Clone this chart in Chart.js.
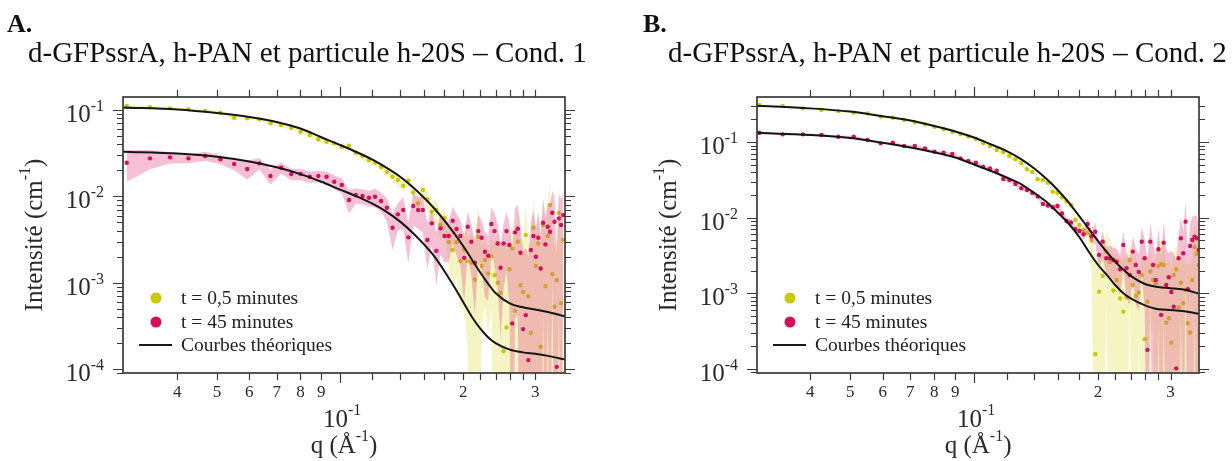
<!DOCTYPE html>
<html>
<head>
<meta charset="utf-8">
<script src="https://cdn.jsdelivr.net/npm/chart.js@4"></script>
<style>
  body { margin: 0; background: #fff; width: 1232px; height: 461px; overflow: hidden; position: relative; }
  canvas { position: absolute; top: 0; }
  #cA { left: 0; }
  #cB { left: 634px; }
</style>
</head>
<body>
<canvas id="cA" width="598" height="461"></canvas>
<canvas id="cB" width="598" height="461"></canvas>
<script>
// q values (A^-1), shared by both measurements
const q = [
  0.0301, 0.0343, 0.0384, 0.0426, 0.0468, 0.0510, 0.0551, 0.0593, 0.0635, 0.0676,
  0.0718, 0.0760, 0.0801, 0.0843, 0.0885, 0.0927, 0.0968, 0.1010, 0.1052, 0.1093,
  0.1135, 0.1177, 0.1218, 0.1260, 0.1302, 0.1344, 0.1385, 0.1427, 0.1469, 0.1510,
  0.1552, 0.1594, 0.1635, 0.1677, 0.1719, 0.1761, 0.1802, 0.1844, 0.1886, 0.1927,
  0.1969, 0.2011, 0.2052, 0.2094, 0.2136, 0.2178, 0.2219, 0.2261, 0.2303, 0.2344,
  0.2386, 0.2428, 0.2469, 0.2511, 0.2553, 0.2595, 0.2636, 0.2678, 0.2720, 0.2761,
  0.2803, 0.2845, 0.2886, 0.2928, 0.2970, 0.3012, 0.3053, 0.3095, 0.3137, 0.3178,
  0.3220, 0.3262, 0.3303, 0.3345, 0.3387, 0.3429, 0.3470, 0.3512
];

// Cond. 1, t = 0,5 min
const yellowA = [
  0.1112, 0.1075, 0.1046, 0.1019, 0.0974, 0.0930, 0.0814, 0.0801, 0.0780, 0.0701,
  0.0670, 0.0624, 0.0561, 0.0513, 0.0458, 0.0429, 0.0411, 0.0376, 0.0386, 0.0320,
  0.0293, 0.0263, 0.0246, 0.0219, 0.0191, 0.0169, 0.01545, 0.01327, 0.01517, 0.01113,
  0.00829, 0.01183, 0.00930, 0.00663, 0.00694, 0.00465, 0.00561, 0.00295, 0.00239, 0.00295,
  0.00178, 0.00243, 0.00178, 0.00170, 0.00109, 0.00340, 0.00156, 0.00183, 0.00128, 0.00203,
  0.00122, 0.000997, 0.000764, 0.000161, 0.000303, 0.00143, 0.00250, 0.000472, 0.00298, 0.000938,
  0.000784, 0.00356, 0.000699, 0.000263, 0.00433, 0.00156, 0.00285, 0.000181, 0.00465, 0.000913,
  0.00347, 0.00793, 0.00126, 0.000526, 0.00107, 0.00641, 0.000580, 0.00312
];
const relYellowA = [
  0.04, 0.04, 0.04, 0.04, 0.04, 0.04, 0.04, 0.04, 0.04, 0.04,
  0.06, 0.06, 0.06, 0.06, 0.06, 0.06, 0.06, 0.06, 0.06, 0.06,
  0.10, 0.10, 0.10, 0.10, 0.10, 0.10, 0.15, 0.15, 0.15, 0.15,
  0.15, 0.25, 0.25, 0.3, 0.3, 0.35, 0.35, 0.5, 0.6, 0.6,
  0.7, 0.8, 0.9, 1.2, 2, 1.3, 0.8, 0.7, 0.8, 0.75,
  1.2, 2.5, 3, 15, 8, 1.2, 1.1, 5, 1.2, 2.5,
  3, 1.1, 3.5, 9, 1.1, 1.2, 1.1, 12, 1.0, 2.5,
  1.1, 1.0, 1.8, 4, 2, 1.1, 4, 1.0
];
// Cond. 1, t = 45 min
const pinkA = [
  0.02451, 0.02756, 0.02831, 0.02756, 0.02931, 0.02683, 0.02368, 0.02072, 0.02413, 0.01719,
  0.02145, 0.01813, 0.01813, 0.01687, 0.01719, 0.01687, 0.01477, 0.01352, 0.00906, 0.01035,
  0.01008, 0.00963, 0.00989, 0.00882, 0.00738, 0.00433, 0.00619, 0.00694, 0.00335, 0.00772,
  0.00694, 0.00694, 0.00312, 0.00487, 0.00234, 0.00426, 0.00347, 0.00347, 0.00522, 0.00418,
  0.00347, 0.00194, 0.00444, 0.00298, 0.00170, 0.00396, 0.00331, 0.00228, 0.00205, 0.00478,
  0.00396, 0.00285, 0.00149, 0.00285, 0.00396, 0.00273, 0.000338, 0.00383, 0.00421, 0.00222,
  0.000290, 0.000421, 0.000127, 0.00239, 0.00347, 0.00200, 0.00331, 0.00146, 0.00494, 0.00278,
  0.00444, 0.00389, 0.00646, 0.00508, 0.000106, 0.00556, 0.00465, 0.00607
];
const relPinkA = [
  0.4, 0.25, 0.15, 0.12, 0.12, 0.12, 0.15, 0.25, 0.15, 0.2,
  0.15, 0.15, 0.15, 0.15, 0.15, 0.15, 0.18, 0.2, 0.3, 0.2,
  0.2, 0.2, 0.25, 0.25, 0.3, 0.45, 0.35, 0.4, 0.5, 0.4,
  0.4, 0.45, 0.55, 0.45, 0.6, 0.5, 0.5, 0.5, 0.45, 0.5,
  0.55, 0.7, 0.5, 0.6, 0.75, 0.55, 0.6, 0.7, 0.7, 0.55,
  0.6, 0.7, 0.85, 0.7, 0.65, 0.8, 6, 0.9, 0.9, 1.1,
  7, 5, 15, 1.1, 1.0, 1.2, 1.0, 1.5, 0.9, 1.1,
  0.9, 1.0, 0.8, 1.0, 20, 0.9, 1.0, 0.8
];

// Cond. 2, t = 0,5 min
const yellowB = [
  0.3083, 0.2990, 0.2787, 0.2646, 0.2567, 0.2438, 0.2393, 0.2159, 0.2094, 0.1953,
  0.1821, 0.1713, 0.1593, 0.1485, 0.1368, 0.1275, 0.1182, 0.1095, 0.0961, 0.0886,
  0.0784, 0.0738, 0.0653, 0.0591, 0.0528, 0.0436, 0.0402, 0.0322, 0.0315, 0.0290,
  0.0221, 0.0214, 0.0186, 0.0166, 0.0147, 0.00932, 0.00801, 0.00688, 0.00622, 0.00507,
  0.000157, 0.001053, 0.00170, 0.00356, 0.00260, 0.001092, 0.00150, 0.000856, 0.000573, 0.000883,
  0.00276, 0.00129, 0.000924, 0.001028, 0.00175, 0.000248, 0.000777, 0.00194, 0.00150, 0.00133,
  0.00230, 0.00242, 0.00237, 0.000410, 0.000469, 0.000223, 0.00175, 0.00208, 0.000651, 0.00138,
  0.000740, 0.001109, 0.000403, 0.000303, 0.00150, 0.00406, 0.00331, 0.00237
];
const relYellowB = [
  0.03, 0.03, 0.03, 0.03, 0.03, 0.03, 0.03, 0.03, 0.03, 0.03,
  0.03, 0.03, 0.03, 0.03, 0.03, 0.03, 0.03, 0.03, 0.03, 0.03,
  0.03, 0.05, 0.05, 0.05, 0.05, 0.05, 0.05, 0.05, 0.05, 0.05,
  0.05, 0.1, 0.1, 0.1, 0.1, 0.1, 0.1, 0.1, 0.1, 0.6,
  15, 2, 1.1, 0.8, 1.0, 2, 1.2, 2.5, 4, 2.5,
  0.7, 1.1, 2.5, 0.7, 1.1, 10, 2.5, 0.9, 0.7, 1.2,
  1.1, 1.0, 1.2, 5, 5, 9, 0.9, 1.1, 3, 1.2,
  3, 1.2, 5, 7, 1.2, 1.0, 1.1, 1.2
];
// Cond. 2, t = 45 min
const pinkB = [
  0.1327, 0.1264, 0.1264, 0.1238, 0.1175, 0.1175, 0.1063, 0.0961, 0.0979, 0.0886,
  0.0886, 0.0826, 0.0744, 0.0722, 0.0694, 0.0609, 0.0561, 0.0533, 0.0472, 0.0449,
  0.0418, 0.0324, 0.0315, 0.0279, 0.0245, 0.0232, 0.0212, 0.0191, 0.01517, 0.01450,
  0.01373, 0.01428, 0.01136, 0.00905, 0.00864, 0.00703, 0.00667, 0.00604, 0.00825, 0.00568,
  0.00653, 0.00322, 0.00482, 0.00291, 0.00291, 0.00276, 0.00262, 0.00208, 0.00436, 0.00215,
  0.00175, 0.00356, 0.00237, 0.00192, 0.00482, 0.00291, 0.000179, 0.00482, 0.00237, 0.00150,
  0.00383, 0.000519, 0.00468, 0.00129, 0.00163, 0.001043, 0.000667, 0.000102, 0.00291, 0.00534,
  0.00339, 0.00886, 0.001133, 0.00423, 0.00507, 0.00561, 0.00534, 0.00374
];
const relPinkB = [
  0.03, 0.03, 0.03, 0.03, 0.03, 0.03, 0.03, 0.03, 0.03, 0.03,
  0.03, 0.03, 0.03, 0.03, 0.03, 0.03, 0.03, 0.03, 0.03, 0.03,
  0.03, 0.06, 0.06, 0.06, 0.06, 0.06, 0.06, 0.06, 0.06, 0.06,
  0.06, 0.1, 0.1, 0.1, 0.1, 0.1, 0.1, 0.15, 0.2, 0.2,
  0.3, 0.35, 0.4, 0.4, 0.45, 0.45, 0.5, 0.55, 0.5, 0.6,
  0.6, 0.6, 0.7, 0.7, 0.6, 0.8, 15, 0.8, 1.0, 1.1,
  0.9, 5, 0.9, 2, 1.1, 2.5, 4, 25, 1.0, 0.9,
  1.0, 0.8, 2, 1.0, 1.0, 0.9, 1.0, 1.0
];

// theoretical curves
const qTheory = [0.0295, 0.04, 0.05, 0.06, 0.07, 0.08, 0.09, 0.10, 0.11, 0.12, 0.13, 0.14, 0.15, 0.16,
  0.17, 0.18, 0.19, 0.20, 0.21, 0.22, 0.23, 0.24, 0.26, 0.28, 0.30, 0.32, 0.355];
const theoryA1 = [0.1072, 0.1014, 0.0923, 0.0830, 0.0726, 0.0610, 0.0484, 0.0394, 0.0324, 0.0266, 0.0214,
  0.0170, 0.0130, 0.00977, 0.00724, 0.00525, 0.00376, 0.00266, 0.00186, 0.00132, 0.000977, 0.000759,
  0.000575, 0.000519, 0.000490, 0.000462, 0.000407];
const theoryA2 = [0.0329, 0.0313, 0.0288, 0.0254, 0.0217, 0.0181, 0.01476, 0.01197, 0.00995, 0.00822, 0.00661,
  0.00513, 0.00385, 0.00282, 0.00202, 0.00136, 0.000902, 0.000596, 0.000403, 0.000295, 0.000234, 0.000200,
  0.000168, 0.000156, 0.000150, 0.000143, 0.000129];
const theoryB1 = [0.3017, 0.2787, 0.2529, 0.2192, 0.1923, 0.1627, 0.1376, 0.1147, 0.0927, 0.0760, 0.0596,
  0.0447, 0.0324, 0.0229, 0.0157, 0.01047, 0.00708, 0.00490, 0.00351, 0.00263, 0.00207, 0.00170,
  0.00133, 0.00121, 0.00117, 0.00113, 0.00098];
const theoryB2 = [0.1327, 0.1238, 0.1129, 0.0976, 0.0846, 0.0731, 0.0624, 0.0504, 0.0414, 0.0340, 0.02787,
  0.0212, 0.01612, 0.01153, 0.00826, 0.00556, 0.00352, 0.00237, 0.00175, 0.00129, 0.00101, 0.000856,
  0.000692, 0.000615, 0.000604, 0.000585, 0.000534];

// axis ticks
const xTicks = [0.04, 0.05, 0.06, 0.07, 0.08, 0.09, 0.1, 0.12, 0.14, 0.16, 0.18, 0.2, 0.22, 0.24, 0.26, 0.28, 0.3];
const xLabelVals = [0.04, 0.05, 0.06, 0.07, 0.08, 0.09, 0.2, 0.3];
const xLabelText = ['4', '5', '6', '7', '8', '9', '2', '3'];
const yDecades = [1e-1, 1e-2, 1e-3, 1e-4];
const yDecadeExp = ['-1', '-2', '-3', '-4'];
const legendText = ['t = 0,5 minutes', 't = 45 minutes', 'Courbes théoriques'];

const SERIF = '"Liberation Serif", "DejaVu Serif", serif';
const YELLOW = '#C9C900';
const PINK = '#D5105A';
const YELLOW_BAND = 'rgba(226,226,90,0.36)';
const PINK_BAND = 'rgba(226,80,140,0.36)';

function rich(ctx, parts, x, y, align) {
  let w = 0;
  parts.forEach(p => { ctx.font = p.f; p.w = ctx.measureText(p.t).width; w += p.w; });
  let cx = align === 'right' ? x - w : align === 'center' ? x - w / 2 : x;
  ctx.textAlign = 'left';
  parts.forEach(p => { ctx.font = p.f; ctx.fillText(p.t, cx, y - (p.r || 0)); cx += p.w; });
}

const decor = {
  id: 'decor',
  afterDraw(chart, args, o) {
    const { ctx, chartArea: a, scales: { x, y } } = chart;
    ctx.save();
    ctx.strokeStyle = '#3a3a3a';
    ctx.lineWidth = 1.7;
    ctx.strokeRect(a.left, a.top, a.right - a.left, a.bottom - a.top);

    ctx.lineWidth = 1.2;
    ctx.beginPath();
    xTicks.forEach(v => {
      const px = Math.round(x.getPixelForValue(v)) + 0.5;
      const L = v === 0.1 ? 10 : 7;
      ctx.moveTo(px, a.top); ctx.lineTo(px, a.top - L);
      ctx.moveTo(px, a.bottom); ctx.lineTo(px, a.bottom + L);
    });
    for (let e = -5; e <= 0; e++) {
      for (let m = 1; m <= 9; m++) {
        const v = m * Math.pow(10, e);
        if (v < y.min || v > y.max) continue;
        const py = Math.round(y.getPixelForValue(v)) + 0.5;
        const L = m === 1 ? 10 : 6;
        ctx.moveTo(a.left, py); ctx.lineTo(a.left - L, py);
        ctx.moveTo(a.right, py); ctx.lineTo(a.right + L, py);
      }
    }
    ctx.stroke();

    ctx.fillStyle = '#2a2a2a';
    ctx.textBaseline = 'alphabetic';
    // x tick labels
    ctx.font = '17px ' + SERIF;
    ctx.textAlign = 'center';
    xLabelVals.forEach((v, i) => ctx.fillText(xLabelText[i], x.getPixelForValue(v), 397));
    // 10^-1 under the axis
    const p1 = x.getPixelForValue(0.1);
    rich(ctx, [{ t: '10', f: '25px ' + SERIF }, { t: '-1', f: '16px ' + SERIF, r: 12 }], p1 + 2, 427, 'center');
    // axis title
    rich(ctx, [{ t: 'q (Å', f: '25px ' + SERIF }, { t: '-1', f: '16px ' + SERIF, r: 12 },
      { t: ')', f: '25px ' + SERIF }], p1 + 4, 453, 'center');

    // y tick labels
    yDecades.forEach((v, i) => {
      const py = y.getPixelForValue(v);
      rich(ctx, [{ t: '10', f: '25px ' + SERIF }, { t: yDecadeExp[i], f: '16px ' + SERIF, r: 11 }],
        a.left - 19, py + 12, 'right');
    });
    // y title
    ctx.save();
    ctx.translate(33, (a.top + a.bottom) / 2);
    ctx.rotate(-Math.PI / 2);
    rich(ctx, [{ t: 'Intensité (cm', f: '25px ' + SERIF }, { t: '-1', f: '16px ' + SERIF, r: 12 },
      { t: ')', f: '25px ' + SERIF }], 0, 9, 'center');
    ctx.restore();

    // panel letter and title
    ctx.fillStyle = '#111';
    ctx.textAlign = 'left';
    ctx.font = 'bold 26px ' + SERIF;
    ctx.fillText(o.letter, o.letterX, 32);
    ctx.font = '29px ' + SERIF;
    ctx.fillText(o.title, o.titleX, 62);

    // legend
    const lx = 156;
    const rows = [298, 322, 345];
    ctx.fillStyle = YELLOW;
    ctx.beginPath(); ctx.arc(lx, rows[0], 5.5, 0, Math.PI * 2); ctx.fill();
    ctx.fillStyle = PINK;
    ctx.beginPath(); ctx.arc(lx, rows[1], 5.5, 0, Math.PI * 2); ctx.fill();
    ctx.strokeStyle = '#1a1a1a';
    ctx.lineWidth = 1.8;
    ctx.beginPath(); ctx.moveTo(139, rows[2]); ctx.lineTo(172, rows[2]); ctx.stroke();
    ctx.fillStyle = '#222';
    ctx.font = '19.5px ' + SERIF;
    ctx.textBaseline = 'middle';
    legendText.forEach((t, i) => ctx.fillText(t, 181, rows[i] + 1));
    ctx.restore();
  }
};

function band(vals, rel, color, order) {
  const up = q.map((v, i) => ({ x: v, y: vals[i] * (1 + rel[i]) }));
  const lo = q.map((v, i) => ({ x: v, y: Math.max(vals[i] * (1 - rel[i]), 1e-6) }));
  const common = { showLine: true, borderWidth: 0, borderColor: 'rgba(0,0,0,0)', pointRadius: 0, tension: 0, order };
  return [
    Object.assign({ data: up, fill: '+1', backgroundColor: color }, common),
    Object.assign({ data: lo, fill: false }, common)
  ];
}
function points(vals, color, order) {
  return {
    data: q.map((v, i) => ({ x: v, y: vals[i] })),
    showLine: false, pointRadius: 2.2, pointBorderWidth: 0,
    pointBackgroundColor: color, backgroundColor: color, borderColor: color, order
  };
}
function curve(vals) {
  return {
    data: qTheory.map((v, i) => ({ x: v, y: vals[i] })),
    showLine: true, borderColor: '#151515', borderWidth: 2, pointRadius: 0,
    cubicInterpolationMode: 'monotone', fill: false, order: 0
  };
}

function makeChart(id, c) {
  new Chart(document.getElementById(id), {
    type: 'line',
    data: {
      datasets: [
        curve(c.t1), curve(c.t2),
        points(c.pink, PINK, 1),
        ...band(c.pink, c.relPink, PINK_BAND, 2),
        points(c.yellow, YELLOW, 3),
        ...band(c.yellow, c.relYellow, YELLOW_BAND, 4)
      ]
    },
    options: {
      responsive: false,
      animation: false,
      devicePixelRatio: 1,
      events: [],
      layout: { padding: { left: 123, right: 33, top: 97, bottom: 88 } },
      scales: {
        x: { type: 'logarithmic', min: c.xmin, max: c.xmax, display: false },
        y: { type: 'logarithmic', min: c.ymin, max: c.ymax, display: false }
      },
      plugins: {
        legend: { display: false },
        tooltip: { enabled: false },
        decor: c.decor
      }
    },
    plugins: [decor]
  });
}

makeChart('cA', {
  yellow: yellowA, relYellow: relYellowA, pink: pinkA, relPink: relPinkA,
  t1: theoryA1, t2: theoryA2,
  xmin: 0.02947, xmax: 0.3548, ymin: 9.0e-5, ymax: 0.1415,
  decor: { letter: 'A.', letterX: 7, title: 'd-GFPssrA, h-PAN et particule h-20S – Cond. 1', titleX: 28 }
});
makeChart('cB', {
  yellow: yellowB, relYellow: relYellowB, pink: pinkB, relPink: relPinkB,
  t1: theoryB1, t2: theoryB2,
  xmin: 0.0297, xmax: 0.3516, ymin: 8.85e-5, ymax: 0.394,
  decor: { letter: 'B.', letterX: 9, title: 'd-GFPssrA, h-PAN et particule h-20S – Cond. 2', titleX: 34 }
});
</script>
</body>
</html>
